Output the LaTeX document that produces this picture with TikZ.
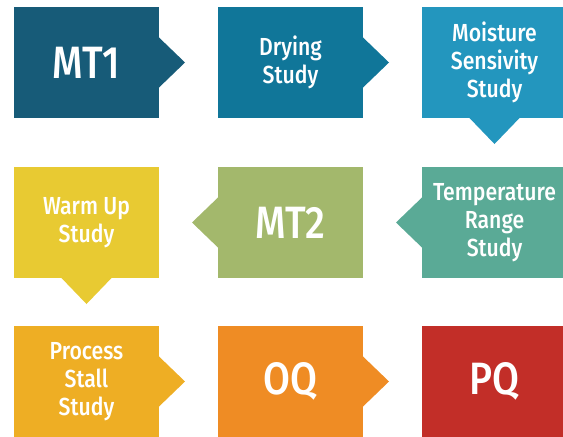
\documentclass[tikz,border=0pt]{standalone}
\usepackage{fontspec}
\setmainfont{Fira Sans}[FakeStretch=0.86, UprightFont={* Medium}]
\usetikzlibrary{calc}
\definecolor{mtone}{HTML}{175B78}
\definecolor{drying}{HTML}{107699}
\definecolor{moist}{HTML}{2396BE}
\definecolor{temprange}{HTML}{5AAA96}
\definecolor{mttwo}{HTML}{A3B86C}
\definecolor{warmup}{HTML}{E8CA32}
\definecolor{stall}{HTML}{EEAE24}
\definecolor{oq}{HTML}{EF8C24}
\definecolor{pq}{HTML}{C22E28}

\begin{document}
\begin{tikzpicture}[x=0.75pt,y=-0.75pt]

\tikzstyle{stage} = [draw=none, inner sep=0, outer sep=0, minimum width=108.75pt, minimum height=83.25pt,
text=white, align=center, font=\fontsize{18.5}{21}\selectfont]
\tikzstyle{big} = [font=\fontsize{34}{38}\selectfont]

\useasboundingbox (0,0) rectangle (563,436);

% first row
\node [stage, big, fill=mtone] (mt1) at (86.5,62.5) {MT1};
\node [stage, fill=drying] (dry) at (290.5,62.5) {Drying\\Study};
\node [stage, fill=moist] (moist) at (494.5,62.5) {Moisture\\Sensivity\\Study};

% second row
\node [stage, fill=warmup] (warm) at (86.5,222.5) {Warm Up\\Study};
\node [stage, big, fill=mttwo] (mt2) at (290.5,222.5) {MT2};
\node [stage, fill=temprange] (temp) at (494.5,222.5) {Temperature\\Range\\Study};

% third row
\node [stage, fill=stall] (stall) at (86.5,381.5) {Process\\Stall\\Study};
\node [stage, big, fill=oq] (oq) at (290.5,381.5) {OQ};
\node [stage, big, fill=pq] (pq) at (494.5,381.5) {PQ};

% pointers
\fill[mtone] ($(mt1.east)+(-1,-26)$) -- ++(27,26) -- ++(-27,26) -- cycle;
\fill[drying] ($(dry.east)+(-1,-26)$) -- ++(27,26) -- ++(-27,26) -- cycle;
\fill[moist] ($(moist.south)+(-26,-1)$) -- ++(26,27) -- ++(26,-27) -- cycle;
\fill[temprange] ($(temp.west)+(1,-26)$) -- ++(-27,26) -- ++(27,26) -- cycle;
\fill[mttwo] ($(mt2.west)+(1,-26)$) -- ++(-27,26) -- ++(27,26) -- cycle;
\fill[warmup] ($(warm.south)+(-26,-1)$) -- ++(26,27) -- ++(26,-27) -- cycle;
\fill[stall] ($(stall.east)+(-1,-26)$) -- ++(27,26) -- ++(-27,26) -- cycle;
\fill[oq] ($(oq.east)+(-1,-26)$) -- ++(27,26) -- ++(-27,26) -- cycle;

\end{tikzpicture}
\end{document}
